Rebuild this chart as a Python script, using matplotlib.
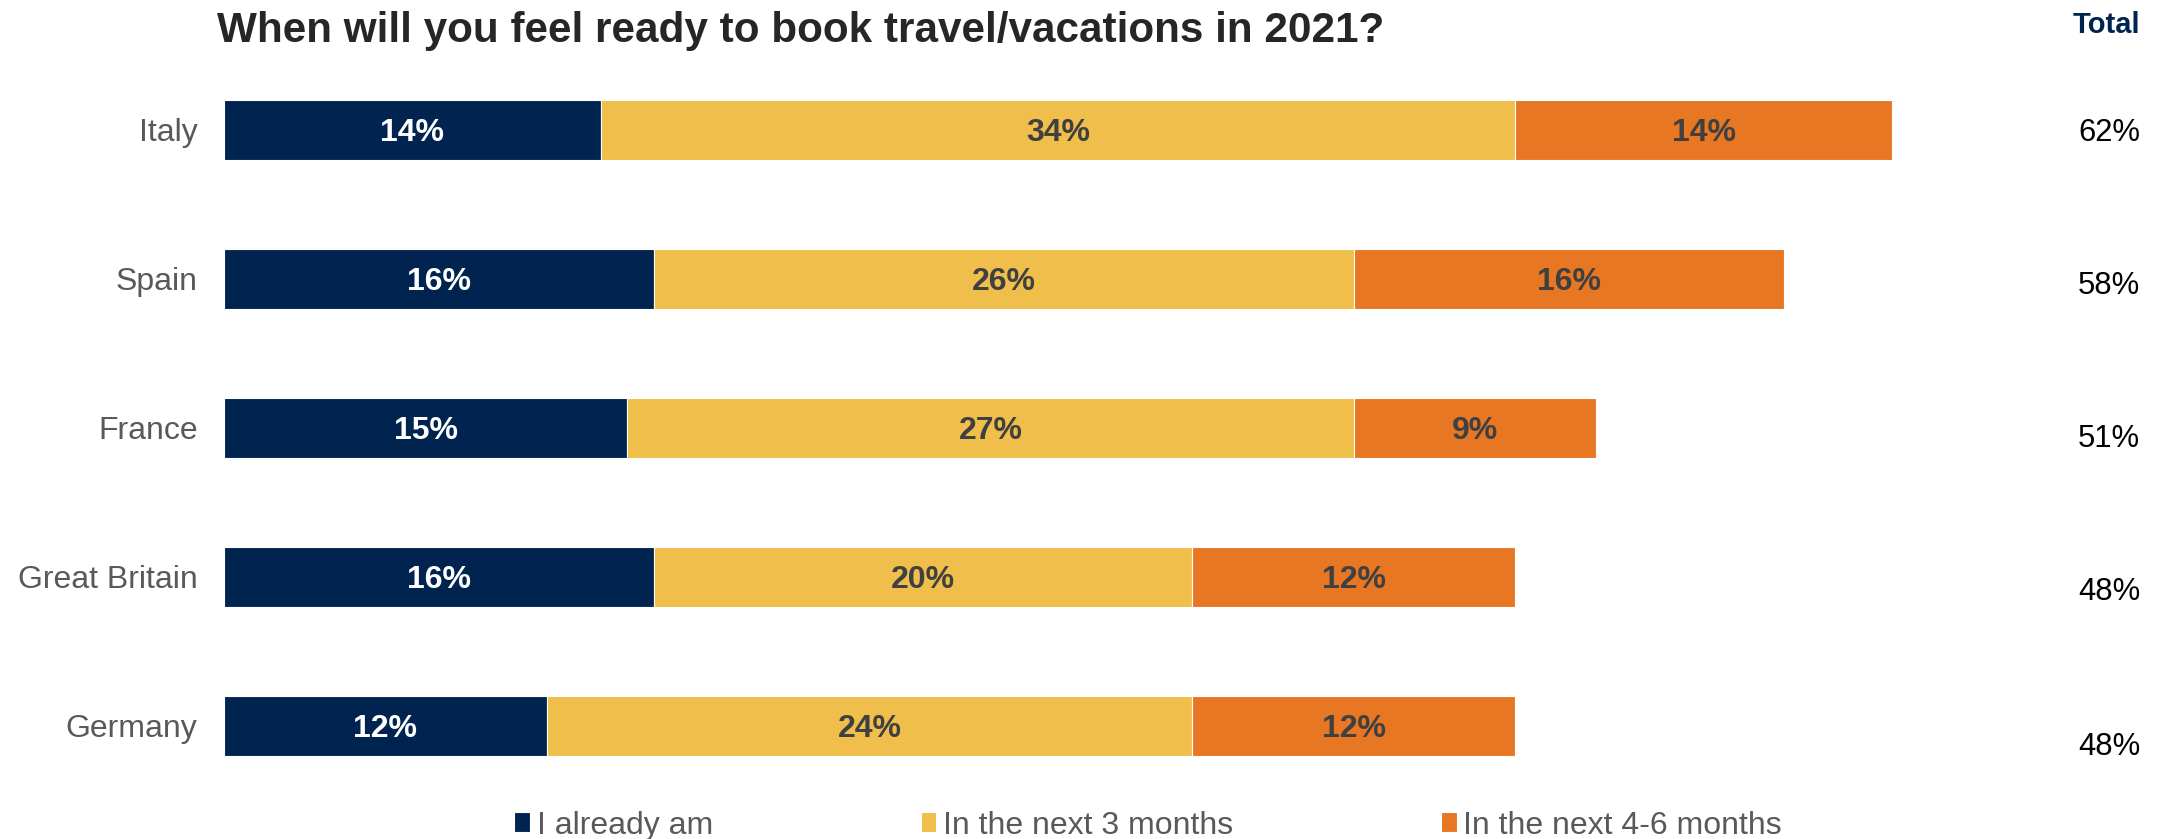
import matplotlib.pyplot as plt

plt.rcParams['font.family'] = ['Liberation Sans', 'DejaVu Sans']

# survey results (share of respondents, %)
countries = ['Italy', 'Spain', 'France', 'Great Britain', 'Germany']
already = [14, 16, 15, 16, 12]
next_3 = [34, 26, 27, 20, 24]
next_4_6 = [14, 16, 9, 12, 12]
series_names = ['I already am', 'In the next 3 months', 'In the next 4-6 months']
colors = ['#00244F', '#F0BE4A', '#E77722']
text_colors = ['white', '#404040', '#404040']

totals = [a + b + c for a, b, c in zip(already, next_3, next_4_6)]

fig = plt.figure(figsize=(21.68, 8.39), dpi=100)
ax = fig.add_axes([0.1033, 0.0459, 0.8686, 0.888])

y = list(range(len(countries)))
left = [0] * len(countries)
handles = []
for vals, name, col, tcol in zip([already, next_3, next_4_6], series_names, colors, text_colors):
    bars = ax.barh(y, vals, left=left, height=0.4, color=col,
                   edgecolor='white', linewidth=0.8, label=name)
    handles.append(bars)
    labels = ax.bar_label(bars, labels=[f'{v}%' for v in vals], label_type='center',
                          color=tcol, fontsize=23, fontweight='bold')
    for t in labels:
        t.set_va('center_baseline')
    left = [l + v for l, v in zip(left, vals)]

ax.set_xlim(0, 70)
ax.set_ylim(4.5, -0.5)
ax.set_yticks(y)
ax.set_yticklabels(countries, fontsize=23, color='#595959')
ax.tick_params(axis='y', length=0, pad=19)
ax.set_xticks([])
for s in ax.spines.values():
    s.set_visible(False)

# title and the "Total" column on the right
fig.text(0.1001, 1 - 31 / 839, 'When will you feel ready to book travel/vacations in 2021?',
         fontsize=30.4, fontweight='bold', color='#262626', ha='left', va='center')
fig.text(0.9871, 1 - 25 / 839, 'Total', fontsize=21, fontweight='bold', color='#00244F',
         ha='right', va='center')
total_y = [133, 286, 439, 592, 747]
for t, py in zip(totals, total_y):
    fig.text(0.9871, 1 - py / 839, f'{t}%', fontsize=22.3, color='black',
             ha='right', va='center')

leg = fig.legend(handles=handles, labels=series_names, loc='center',
                 bbox_to_anchor=(0.5295, 0.016), ncol=3, frameon=False,
                 fontsize=23, handlelength=0.5, handleheight=0.6,
                 handletextpad=0.2, columnspacing=6.5, borderpad=0)
for txt in leg.get_texts():
    txt.set_color('#595959')

fig.savefig('out.png', dpi=100)
